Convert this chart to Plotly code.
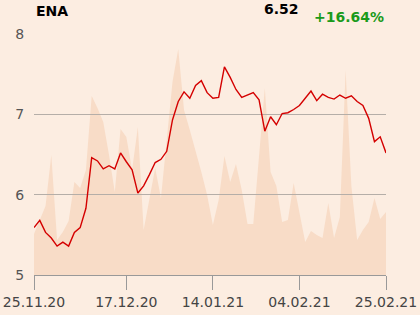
import plotly.graph_objects as go

# Price (EUR) per trading day, 25.11.20 .. 25.02.21
price = [5.59, 5.68, 5.53, 5.46, 5.36, 5.41, 5.36, 5.53, 5.59, 5.83,
         6.46, 6.42, 6.32, 6.36, 6.32, 6.52, 6.41, 6.31, 6.02, 6.11,
         6.25, 6.40, 6.44, 6.54, 6.93, 7.16, 7.28, 7.20, 7.36, 7.42,
         7.27, 7.20, 7.21, 7.59, 7.46, 7.31, 7.21, 7.24, 7.27, 7.18,
         6.79, 6.97, 6.87, 7.01, 7.02, 7.06, 7.11, 7.20, 7.29, 7.17,
         7.25, 7.21, 7.19, 7.24, 7.20, 7.23, 7.16, 7.11, 6.95, 6.66,
         6.72, 6.52]
# Volume (relative units)
volume = [41, 55, 69, 120, 35, 43, 54, 93, 87, 105,
          179, 167, 153, 120, 83, 146, 138, 105, 148, 45,
          75, 107, 77, 135, 193, 226, 165, 145, 125, 103,
          80, 50, 75, 119, 93, 111, 85, 51, 51, 115,
          187, 103, 89, 53, 55, 92, 62, 33, 44, 40,
          37, 72, 37, 58, 205, 89, 35, 45, 53, 77,
          56, 63]
idx = list(range(len(price)))
tick_idx = [0, 16, 31, 46, 61]
tick_text = ["25.11.20", "17.12.20", "14.01.21", "04.02.21", "25.02.21"]
y_ticks = [5, 6, 7, 8]
title = "ENA"
last_txt = "6.52"
chg_txt = "+16.64%"

BG = "#fcede1"
AREA = "#f8dcc7"
GRID = "#b5aea8"

fig = go.Figure()
fig.add_trace(go.Scatter(x=idx, y=volume, mode="lines", line=dict(width=0, color=AREA),
                         fill="tozeroy", fillcolor=AREA, xaxis="x", yaxis="y",
                         hoverinfo="skip"))
fig.add_trace(go.Scatter(x=idx, y=price, mode="lines", line=dict(width=1.4, color="#d40000"),
                         xaxis="x2", yaxis="y2"))

fig.update_layout(
    width=420, height=315,
    margin=dict(l=34, r=34, t=34, b=40),
    paper_bgcolor=BG, plot_bgcolor="rgba(0,0,0,0)",
    showlegend=False,
    font=dict(family="DejaVu Sans", size=14, color="#444444"),
    xaxis=dict(domain=[0, 1], range=[0, len(price) - 1], visible=False, fixedrange=True,
               automargin=False),
    yaxis=dict(domain=[0, 1], range=[0, 241], visible=False, fixedrange=True,
               automargin=False),
    xaxis2=dict(domain=[0, 1], anchor="y2", range=[0, len(price) - 1],
                tickvals=tick_idx, ticktext=tick_text, showgrid=False,
                showline=True, linecolor="#999999", linewidth=1,
                ticks="outside", ticklen=14, tickcolor="#999999", tickwidth=1,
                tickfont=dict(size=14, color="#444444"), zeroline=False,
                automargin=False),
    yaxis2=dict(domain=[0, 1], anchor="x2", range=[5, 8], tickvals=y_ticks,
                showgrid=True, gridcolor=GRID, gridwidth=1, zeroline=False,
                showline=False, ticks="outside", ticklen=6, tickcolor="rgba(0,0,0,0)",
                tickfont=dict(size=14, color="#555555"), automargin=False),
    annotations=[
        dict(text="<b>%s</b>" % title, xref="paper", yref="paper", x=0, y=1.0975,
             xanchor="left", yanchor="middle", showarrow=False,
             font=dict(size=14, color="#000000")),
        dict(text="<b>%s</b>" % last_txt, xref="paper", yref="paper", x=0.758, y=1.104,
             xanchor="right", yanchor="middle", showarrow=False,
             font=dict(size=14, color="#000000")),
        dict(text="<b>%s</b>" % chg_txt, xref="paper", yref="paper", x=1.0, y=1.0726,
             xanchor="right", yanchor="middle", showarrow=False,
             font=dict(size=14, color="#1a9a1a")),
    ],
)
fig.write_html("out.html")
